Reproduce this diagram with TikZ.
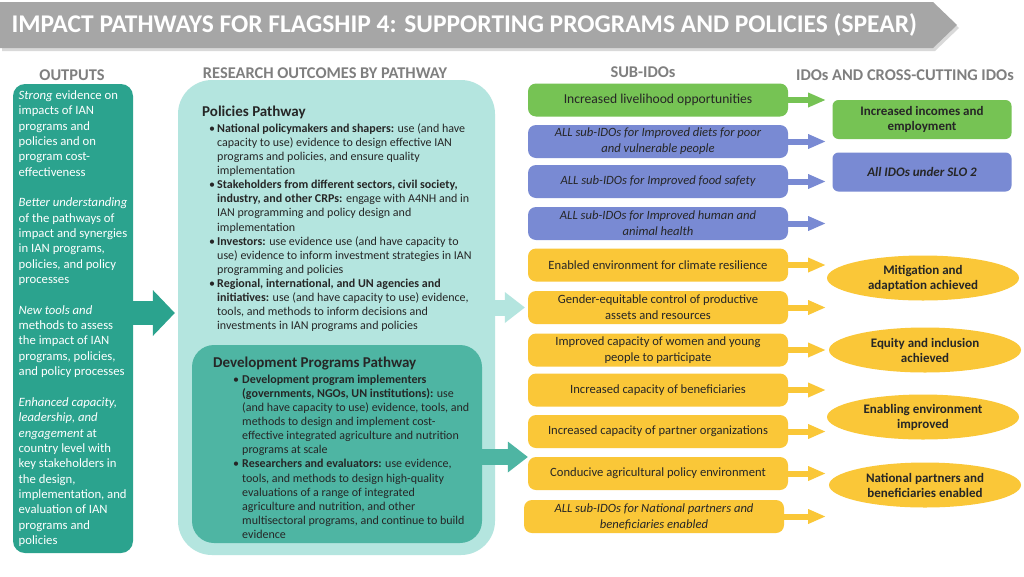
\documentclass[tikz,border=0pt]{standalone}
\usepackage{fontspec}
\setmainfont{Carlito}
\usetikzlibrary{arrows.meta,shapes.geometric}

\definecolor{bannergray}{RGB}{166,166,166}
\definecolor{headgray}{RGB}{127,127,127}
\definecolor{outteal}{RGB}{43,163,142}
\definecolor{devteal}{RGB}{78,181,163}
\definecolor{lightteal}{RGB}{180,229,223}
\definecolor{idogreen}{RGB}{118,195,84}
\definecolor{idoblue}{RGB}{121,138,211}
\definecolor{idoyellow}{RGB}{250,199,56}
\definecolor{darktext}{RGB}{38,38,38}

\newcommand{\pbul}{\hspace*{7pt}\makebox[8pt][l]{\textbullet}}
\newcommand{\pind}{\hspace*{15pt}}
\newcommand{\dbul}{\hspace*{20pt}\makebox[9pt][l]{\textbullet}}
\newcommand{\dind}{\hspace*{29pt}}

\begin{document}
\begin{tikzpicture}[x=1pt,y=-1pt]
  \tikzset{
    header/.style={font=\fontsize{16.4}{18}\selectfont\bfseries, text=headgray},
    subido/.style={rounded corners=8pt, minimum width=260pt, minimum height=33pt, inner sep=2pt, align=center, text=darktext, font=\fontsize{12.6}{16}\selectfont},
    subit/.style={subido, font=\fontsize{12.6}{16}\selectfont\itshape},
    idobox/.style={rounded corners=6pt, minimum width=179pt, minimum height=39pt, align=center, text=darktext, font=\fontsize{13}{15}\selectfont\bfseries},
    idoell/.style={ellipse, fill=idoyellow, minimum width=192pt, minimum height=45pt, inner sep=0pt, align=center, text=darktext, font=\fontsize{13}{15}\selectfont\bfseries},
    subarrow/.style={line width=6pt, -{Triangle[width=15pt,length=17pt,line width=0pt]}},
    midarrow/.style={line width=16pt, -{Triangle[width=31pt,length=20pt,line width=0pt]}},
    bigarrow/.style={line width=24pt, -{Triangle[width=46pt,length=22pt,line width=0pt]}}
  }
  \fill[white] (0,0) rectangle (1024,576);

  % Title banner
  \fill[black!15] (2,5) -- (935,5) -- (959,28) -- (935,51) -- (2,51) -- cycle;
  \fill[bannergray] (0,2) -- (933,2) -- (957,25) -- (933,48) -- (0,48) -- cycle;
  \node[anchor=west, text=white, font=\fontsize{25.5}{28}\selectfont\bfseries] (title) at (8,25)
    {IMPACT PATHWAYS FOR FLAGSHIP 4: SUPPORTING PROGRAMS AND POLICIES (SPEAR)};

  % Column headers
  \node[header] (hout) at (72,75) {OUTPUTS};
  \node[header] (hres) at (325,73) {RESEARCH OUTCOMES BY PATHWAY};
  \node[header] (hsub) at (643,72) {SUB-IDOs};
  \node[header] (hido) at (905,75) {IDOs AND CROSS-CUTTING IDOs};

  % Outputs
  \node[fill=outteal, rounded corners=12pt, minimum width=120pt, minimum height=469pt, text=white, align=left,
        font=\fontsize{12.7}{15.35}\selectfont] (outputs) at (73,318.5)
    {\textit{Strong} evidence on\\ impacts of IAN\\ programs and\\ policies and on\\ program cost-\\ effectiveness\\[15.35pt]
     \textit{Better understanding}\\ of the pathways of\\ impact and synergies\\ in IAN programs,\\ policies, and policy\\ processes\\[15.35pt]
     \textit{New tools and}\\ methods to assess\\ the impact of IAN\\ programs, policies,\\ and policy processes\\[15.35pt]
     \textit{Enhanced capacity,}\\ \textit{leadership, and}\\ \textit{engagement} at\\ country level with\\ key stakeholders in\\ the design,\\ implementation, and\\ evaluation of IAN\\ programs and\\ policies};

  % Research outcomes by pathway
  \node[fill=lightteal, rounded corners=34pt, minimum width=317pt, minimum height=475pt] (research) at (336.5,317.5) {};
  \node[anchor=north west, inner sep=0pt, align=left, text=darktext, font=\fontsize{12}{14.1}\selectfont] (poltext) at (202,106)
    {{\fontsize{15}{17}\selectfont\bfseries Policies Pathway}\\[1.5pt]
     \pbul\textbf{National policymakers and shapers:} use (and have\\
     \pind capacity to use) evidence to design effective IAN\\
     \pind programs and policies, and ensure quality\\
     \pind implementation\\
     \pbul\textbf{Stakeholders from different sectors, civil society,}\\
     \pind\textbf{industry, and other CRPs:} engage with A4NH and in\\
     \pind IAN programming and policy design and\\
     \pind implementation\\
     \pbul\textbf{Investors:} use evidence use (and have capacity to\\
     \pind use) evidence to inform investment strategies in IAN\\
     \pind programming and policies\\
     \pbul\textbf{Regional, international, and UN agencies and}\\
     \pind\textbf{initiatives:} use (and have capacity to use) evidence,\\
     \pind tools, and methods to inform decisions and\\
     \pind investments in IAN programs and policies};

  \node[fill=devteal, rounded corners=22pt, minimum width=290pt, minimum height=198pt] (dev) at (337,444) {};
  \node[anchor=north west, inner sep=0pt, align=left, text=darktext, font=\fontsize{12}{14.1}\selectfont] (devtext) at (213,357)
    {{\fontsize{15}{17}\selectfont\bfseries Development Programs Pathway}\\[1.5pt]
     \dbul\textbf{Development program implementers}\\
     \dind\textbf{(governments, NGOs, UN institutions):} use\\
     \dind(and have capacity to use) evidence, tools, and\\
     \dind methods to design and implement cost-\\
     \dind effective integrated agriculture and nutrition\\
     \dind programs at scale\\
     \dbul\textbf{Researchers and evaluators:} use evidence,\\
     \dind tools, and methods to design high-quality\\
     \dind evaluations of a range of integrated\\
     \dind agriculture and nutrition, and other\\
     \dind multisectoral programs, and continue to build\\
     \dind evidence};

  % Sub-IDOs
  \node[subido, fill=idogreen, font=\fontsize{13.6}{16}\selectfont] (livelihood) at (658,100) {Increased livelihood opportunities};
  \node[subit, fill=idoblue] (diets) at (658,141.5) {ALL sub-IDOs for Improved diets for poor\\ and vulnerable people};
  \node[subit, fill=idoblue] (safety) at (658,181.5) {ALL sub-IDOs for Improved food safety};
  \node[subit, fill=idoblue] (health) at (658,223.5) {ALL sub-IDOs for Improved human and\\ animal health};
  \node[subido, fill=idoyellow] (climate) at (658,265) {Enabled environment for climate resilience};
  \node[subido, fill=idoyellow] (gender) at (658,307.5) {Gender-equitable control of productive\\ assets and resources};
  \node[subido, fill=idoyellow] (women) at (658,350) {Improved capacity of women and young\\ people to participate};
  \node[subido, fill=idoyellow] (benef) at (658,390) {Increased capacity of beneficiaries};
  \node[subido, fill=idoyellow] (partners) at (658,431.5) {Increased capacity of partner organizations};
  \node[subido, fill=idoyellow] (policyenv) at (658,473.5) {Conducive agricultural policy environment};
  \node[subit, fill=idoyellow] (natpart) at (654,516.5) {ALL sub-IDOs for National partners and\\ beneficiaries enabled};

  % IDOs and cross-cutting IDOs
  \node[idobox, fill=idogreen] (incomes) at (922,119.5) {Increased incomes and\\ employment};
  \node[idobox, fill=idoblue, font=\fontsize{13}{15}\selectfont\bfseries\itshape] (slo) at (922,172) {All IDOs under SLO 2};
  \node[idoell] (mitigation) at (923,278) {Mitigation and\\ adaptation achieved};
  \node[idoell] (equity) at (925,350) {Equity and inclusion\\ achieved};
  \node[idoell] (enabling) at (923,417) {Enabling environment\\ improved};
  \node[idoell] (enabled) at (925,485) {National partners and\\ beneficiaries enabled};

  % Block arrows between columns
  \draw[bigarrow, outteal, shorten >=3pt] (outputs.east |- 0,313) -- (research.west |- 0,313);
  \draw[midarrow, lightteal, shorten >=3pt] (research.east |- gender.west) -- (gender.west);
  \draw[midarrow, devteal] (dev.east |- 0,457) -- (partners.west |- 0,457);

  % Sub-IDO arrows
  \draw[subarrow, idogreen] (livelihood.east) -- ++(37,0);
  \draw[subarrow, idoblue] (diets.east) -- ++(37,0);
  \draw[subarrow, idoblue] (safety.east) -- ++(37,0);
  \draw[subarrow, idoblue] (health.east) -- ++(37,0);
  \draw[subarrow, idoyellow] (climate.east) -- ++(37,0);
  \draw[subarrow, idoyellow] (gender.east) -- ++(37,0);
  \draw[subarrow, idoyellow] (women.east) -- ++(37,0);
  \draw[subarrow, idoyellow] (benef.east) -- ++(37,0);
  \draw[subarrow, idoyellow] (partners.east) -- ++(37,0);
  \draw[subarrow, idoyellow] (policyenv.east) -- ++(37,0);
  \draw[subarrow, idoyellow] (natpart.east) -- ++(41,0);
\end{tikzpicture}
\end{document}
